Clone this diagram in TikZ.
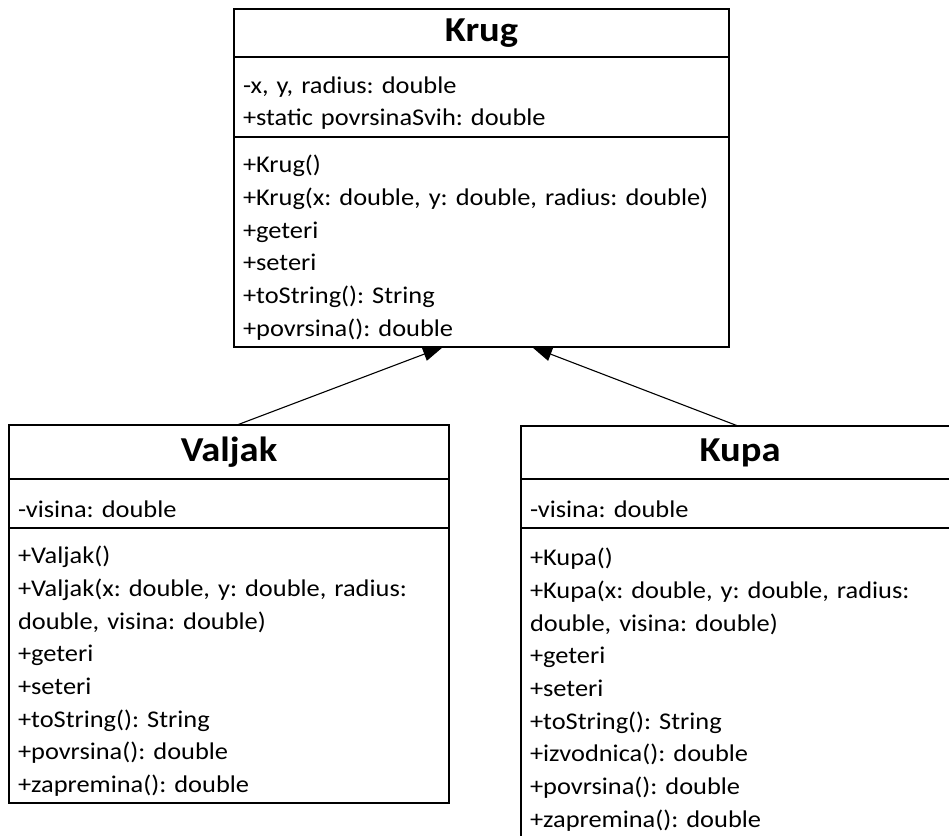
\documentclass[tikz,border=0pt]{standalone}
\usepackage{fontspec}
\setmainfont{Carlito}[FakeStretch=1.1]
\frenchspacing
\usetikzlibrary{positioning,arrows.meta}
\tikzset{
    klasa/.style={draw, line width=1.1pt, outer sep=0pt, inner xsep=9pt, inner ysep=0pt},
    naslov/.style={klasa, align=center, font=\fontsize{35}{40}\selectfont\bfseries},
    clanovi/.style={klasa, align=left, font=\fontsize{24}{32.7}\selectfont, execute at begin node={\rule{0pt}{29pt}}},
    nasledjuje/.style={line width=1.1pt, -{Triangle[length=20pt,width=14pt]}}
}
\begin{document}
\begin{tikzpicture}[x=1pt,y=-1pt]
    \useasboundingbox (0,0) rectangle (949,835);
    \clip (0,0) rectangle (949,835);
    \node[naslov, text width=477pt, minimum height=48pt, anchor=north west] (krug) at (234,9) {Krug};
    \node[clanovi, text width=477pt, minimum height=80pt, below=0pt of krug] (krugA) {-x, y, radius: double\\+static povrsinaSvih: double};
    \node[clanovi, text width=477pt, minimum height=210pt, below=0pt of krugA] (krugM) {+Krug()\\+Krug(x: double, y: double, radius: double)\\+geteri\\+seteri\\+toString(): String\\+povrsina(): double};
    \node[naslov, text width=422pt, minimum height=54pt, anchor=north west] (valjak) at (9,425) {Valjak};
    \node[clanovi, text width=422pt, minimum height=49pt, below=0pt of valjak] (valjakA) {-visina: double};
    \node[clanovi, text width=422pt, minimum height=275pt, below=0pt of valjakA] (valjakM) {+Valjak()\\+Valjak(x: double, y: double, radius:\\double, visina: double)\\+geteri\\+seteri\\+toString(): String\\+povrsina(): double\\+zapremina(): double};
    \node[naslov, text width=420pt, minimum height=53pt, anchor=north west] (kupa) at (521,426) {Kupa};
    \node[clanovi, text width=420pt, minimum height=49pt, below=0pt of kupa] (kupaA) {-visina: double};
    \node[clanovi, text width=420pt, minimum height=312pt, below=0pt of kupaA] (kupaM) {+Kupa()\\+Kupa(x: double, y: double, radius:\\double, visina: double)\\+geteri\\+seteri\\+toString(): String\\+izvodnica(): double\\+povrsina(): double\\+zapremina(): double};
    \draw[nasledjuje] ([xshift=8pt]valjak.north) -- ([xshift=-38.5pt]krugM.south);
    \draw[nasledjuje] ([xshift=-2pt]kupa.north) -- ([xshift=50.5pt]krugM.south);
\end{tikzpicture}
\end{document}
